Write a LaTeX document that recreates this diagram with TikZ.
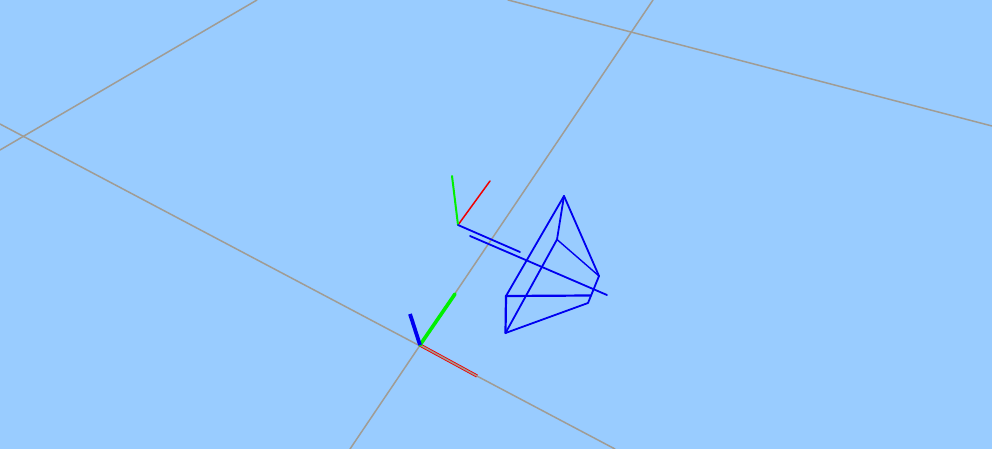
\documentclass[tikz,border=0pt]{standalone}
\definecolor{sky}{HTML}{99CCFF}
\definecolor{gridc}{HTML}{A09C94}
\definecolor{bl}{HTML}{0000F0}
\definecolor{gr}{HTML}{00F000}
\definecolor{rd}{HTML}{F00000}
\tikzset{
  gridline/.style={draw=gridc,line width=1.5pt},
  wire/.style={draw=bl,line width=1.8pt},
  wirethin/.style={draw=bl,line width=1.4pt},
}
\begin{document}
\begin{tikzpicture}[x=1pt,y=-1pt,line cap=round,line join=round]
\useasboundingbox (0,0) rectangle (992,449);
\fill[sky] (0,0) rectangle (992,449);
% grid
\coordinate (g1a) at (0,124);   \coordinate (g1b) at (615,449);
\coordinate (g2a) at (350,449); \coordinate (g2b) at (653,0);
\coordinate (g3a) at (0,150);   \coordinate (g3b) at (257,0);
\coordinate (g4a) at (508,0);   \coordinate (g4b) at (992,126);
\draw[gridline] (g1a)--(g1b);
\draw[gridline] (g2a)--(g2b);
\draw[gridline] (g3a)--(g3b);
\draw[gridline] (g4a)--(g4b);
% world axes
\coordinate (O) at (420,345);
\coordinate (Ob) at (410,314);
\coordinate (Og) at (455,294);
\coordinate (Or) at (477,376);
\draw[draw=rd,line width=3.2pt,line cap=butt] (O)--(Or);
\draw[gridline,line width=1.5pt,line cap=butt] (O)--(Or);
\draw[draw=gr,line width=3.6pt] (O)--(Og);
\draw[draw=bl,line width=3.8pt,line cap=butt] (O)--(Ob);
% camera axes
\coordinate (C) at (458,225);
\coordinate (Cr) at (490,181);
\coordinate (Cg) at (452,176);
\coordinate (Cb) at (520,252);
\draw[draw=rd,line width=1.5pt] (C)--(Cr);
\draw[draw=gr,line width=2pt] (C)--(Cg);
\draw[wire] (C)--(Cb);
% frustum
\coordinate (A1) at (470,236);
\coordinate (A2) at (607,295);
\coordinate (T) at (564,196);
\coordinate (I) at (557,239.5);
\coordinate (R) at (599,276);
\coordinate (BR) at (588,303);
\coordinate (L) at (506,296);
\coordinate (B) at (505.5,333);
\coordinate (M) at (591,295.5);
\draw[wire] (A1)--(A2);
\draw[wire] (T)--(L);
\draw[wire] (T)--(I);
\draw[wire] (T)--(R);
\draw[wire] (I)--(B);
\draw[wirethin] (I)--(R);
\draw[wire] (R)--(BR);
\draw[wire] (BR)--(B);
\draw[wire,line width=2.2pt] (L)--(B);
\draw[wire,line width=2.2pt] (L)--(M);
\end{tikzpicture}
\end{document}
